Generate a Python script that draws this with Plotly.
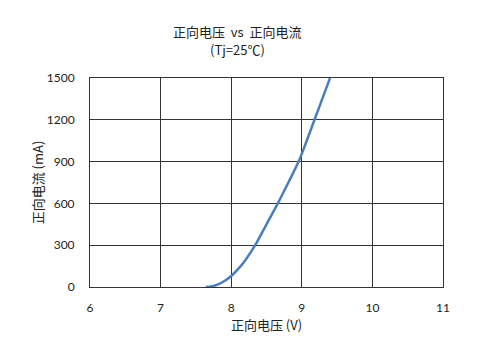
import plotly.graph_objects as go

voltage = [7.64, 7.73, 7.82, 7.91, 8.0, 8.1, 8.195, 8.34, 8.5, 8.66, 8.81, 8.955, 9.07, 9.18, 9.29, 9.40]
current = [0, 5, 20, 45, 79, 130, 189, 300, 450, 600, 750, 900, 1050, 1200, 1350, 1500]

x_ticks = [6, 7, 8, 9, 10, 11]
y_ticks = [0, 300, 600, 900, 1200, 1500]

cjk = "Noto Sans CJK SC"
num_font = "Lato, Noto Sans CJK SC"

fig = go.Figure()
fig.add_trace(go.Scatter(
    x=voltage, y=current, mode="lines",
    line=dict(color="#4a7ebb", width=2.5, shape="spline", smoothing=1.0),
    showlegend=False, hoverinfo="skip"))

fig.update_layout(
    width=500, height=355,
    margin=dict(l=90, r=57, t=78, b=68),
    paper_bgcolor="white", plot_bgcolor="white",
    font=dict(family=num_font, size=12, color="#222"),
)
fig.add_annotation(text="正向电压  vs  正向电流", xref="paper", yref="paper",
                   x=(237-90)/353, y=1 + (78-31)/209, yanchor="middle", showarrow=False,
                   font=dict(family=cjk, size=13, color="#222"))
fig.add_annotation(text="(Tj=25℃)", xref="paper", yref="paper",
                   x=(237-90)/353, y=1 + (78-49)/209, yanchor="middle", showarrow=False,
                   font=dict(family=cjk, size=13, color="#222"))

fig.update_xaxes(
    range=[6, 11], tickvals=x_ticks, ticktext=[str(v) for v in x_ticks],
    showgrid=True, gridcolor="#333", gridwidth=1,
    showline=True, linecolor="#333", linewidth=1, mirror=True,
    ticks="", zeroline=False, ticklabelstandoff=10,
    title=dict(text="正向电压 (V)", font=dict(family=cjk, size=13, color="#222"), standoff=6),
    tickfont=dict(size=12))
fig.update_yaxes(
    range=[0, 1500], tickvals=y_ticks, ticktext=[str(v) for v in y_ticks],
    showgrid=True, gridcolor="#333", gridwidth=1,
    showline=True, linecolor="#333", linewidth=1, mirror=True,
    ticks="", zeroline=False, ticklabelstandoff=12,
    title=dict(text="正向电流 (mA)", font=dict(family=cjk, size=13, color="#222"), standoff=0),
    tickfont=dict(size=12))

fig.write_html("out.html")
